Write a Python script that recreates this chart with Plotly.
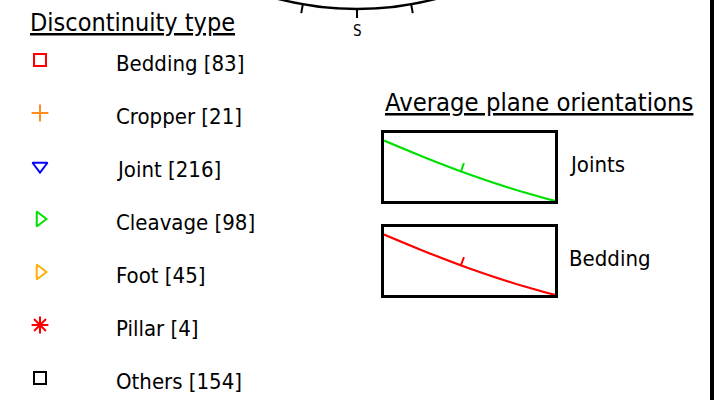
import numpy as np
import plotly.graph_objects as go

# Discontinuity classes, counts and marker styling
categories = ["Bedding", "Cropper", "Joint", "Cleavage", "Foot", "Pillar", "Others"]
counts = [83, 21, 216, 98, 45, 4, 154]
symbols = ["square-open", "cross-thin-open", "triangle-down-open",
           "triangle-right-open", "triangle-right-open", "asterisk-open", "square-open"]
sizes = [12, 12, 13, 13, 13, 14, 12]
colors = ["#ff0000", "#ff8c1a", "#0000ff", "#00e000", "#ffb000", "#ff0000", "#000000"]

# Average plane traces (normalised position along the inset, depth from its top)
plane_names = ["Joints", "Bedding"]
plane_colors = ["#00e000", "#ff0000"]
plane_u = [0.0, 0.25, 0.5, 0.75, 1.0]
plane_v = [
    [0.11, 0.37, 0.61, 0.82, 1.0],
    [0.11, 0.37, 0.61, 0.82, 1.0],
]
dip_tick_u = [0.45, 0.45]

FONT = "DejaVu Sans Condensed, DejaVu Sans, sans-serif"
W, H = 720, 400

fig = go.Figure()

# primitive circle of the stereonet (only its southern rim is in view)
cx, cy, R = 357, -303, 312
theta = np.radians(np.arange(0, 360, 10))
tick_x, tick_y = [], []
for t in theta:
    sx, sy = np.sin(t), np.cos(t)
    tick_x += [cx + R * sx, cx + (R + 9) * sx, None]
    tick_y += [cy + R * sy, cy + (R + 9) * sy, None]
fig.add_shape(type="circle", xref="x", yref="y", x0=cx - R, x1=cx + R,
              y0=cy - R, y1=cy + R, line=dict(color="black", width=2.5))
fig.add_trace(go.Scatter(x=tick_x, y=tick_y, mode="lines",
                         line=dict(color="black", width=2), hoverinfo="skip",
                         showlegend=False))
fig.add_annotation(x=cx, y=31, xref="x", yref="y", text="S", showarrow=False,
                   font=dict(family=FONT, size=15, color="black"))

# frame edge on the right
fig.add_shape(type="line", xref="x", yref="y", x0=712, x1=712, y0=-10, y1=410,
              line=dict(color="black", width=4))

# legend of discontinuity types
fig.add_annotation(x=28, y=22, xref="x", yref="y", xanchor="left", yanchor="middle",
                   text="Discontinuity type", showarrow=False,
                   font=dict(family=FONT, size=25, color="black", lineposition="under"))
row0, row_step = 60, 53
for i, (cat, n, sym, sz, col) in enumerate(zip(categories, counts, symbols, sizes, colors)):
    y = row0 + i * row_step
    fig.add_trace(go.Scatter(
        x=[40], y=[y], mode="markers", showlegend=False, hoverinfo="skip",
        marker=dict(symbol=sym, size=sz, color=col, line=dict(color=col, width=2)),
    ))
    fig.add_annotation(x=114, y=y + 3, xref="x", yref="y", xanchor="left",
                       yanchor="middle", text=f"{cat} [{n}]", showarrow=False,
                       font=dict(family=FONT, size=22, color="black"))

# average plane orientation insets
fig.add_annotation(x=383, y=102, xref="x", yref="y", xanchor="left", yanchor="middle",
                   text="Average plane orientations", showarrow=False,
                   font=dict(family=FONT, size=25.4, color="black", lineposition="under"))

box_x = (384, 555)
box_tops = [133, 227]
box_h = 68
for k, (name, col, v, tu) in enumerate(zip(plane_names, plane_colors, plane_v, dip_tick_u)):
    ax = k + 2
    top = box_tops[k]
    fig.update_layout(**{
        f"xaxis{ax}": dict(domain=[box_x[0] / W, box_x[1] / W], range=[0, 1],
                           anchor=f"y{ax}", showgrid=False, zeroline=False,
                           showticklabels=False, ticks="", showline=True,
                           mirror=True, linecolor="black", linewidth=3),
        f"yaxis{ax}": dict(domain=[1 - (top + box_h) / H, 1 - top / H], range=[1, 0],
                           anchor=f"x{ax}", showgrid=False, zeroline=False,
                           showticklabels=False, ticks="", showline=True,
                           mirror=True, linecolor="black", linewidth=3),
    })
    fig.add_trace(go.Scatter(x=plane_u, y=v, mode="lines", line=dict(color=col, width=2.2, shape="spline"),
                             xaxis=f"x{ax}", yaxis=f"y{ax}", showlegend=False,
                             hoverinfo="skip", cliponaxis=True))
    tv = float(np.interp(tu, plane_u, v))
    fig.add_trace(go.Scatter(x=[tu, tu + 3 / 171], y=[tv, tv - 8 / 68], mode="lines",
                             line=dict(color=col, width=2), xaxis=f"x{ax}",
                             yaxis=f"y{ax}", showlegend=False, hoverinfo="skip"))
    fig.add_annotation(x=567, y=top + 31, xref="x", yref="y", xanchor="left",
                       yanchor="middle", text=name, showarrow=False,
                       font=dict(family=FONT, size=22, color="black"))

fig.update_layout(
    width=W, height=H, margin=dict(l=0, r=0, t=0, b=0),
    paper_bgcolor="white", plot_bgcolor="white", showlegend=False,
    xaxis=dict(domain=[0, 1], range=[0, W], visible=False, fixedrange=True),
    yaxis=dict(domain=[0, 1], range=[H, 0], visible=False, fixedrange=True),
)

fig.write_html("out.html")
